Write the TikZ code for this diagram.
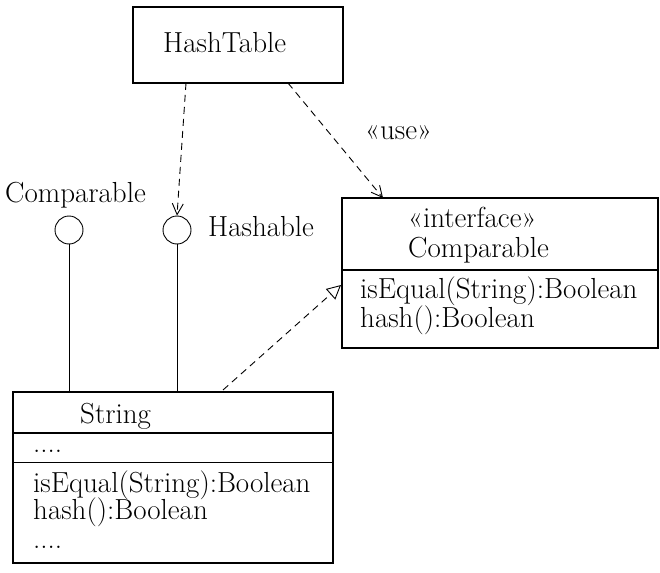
\documentclass[tikz,border=0pt]{standalone}
\usetikzlibrary{arrows.meta,calc}
\begin{document}
\begin{tikzpicture}[x=1pt,y=-1pt,
  font=\fontsize{29}{33}\selectfont,
  box/.style={draw, line width=2.2pt, inner sep=0, outer sep=0, anchor=north west},
  txt/.style={inner sep=0, anchor=base west},
  link/.style={line width=0.9pt},
  dep/.style={link, dash pattern=on 7pt off 5pt, -{Straight Barb[length=11pt,width=11pt,line width=0.9pt]}},
  real/.style={link, dash pattern=on 7pt off 5pt, -{Triangle[open,length=14pt,width=14pt,line width=0.9pt]}},
  lollipop/.style={circle, draw, line width=0.9pt, minimum size=28pt, inner sep=0}]
\path[use as bounding box] (0,0) rectangle (660,572);

% HashTable class
\node[box, minimum width=210pt, minimum height=76pt] (ht) at (133,7) {};
\node[txt] (htname) at (163,53) {HashTable};

% provided interfaces (lollipops)
\node[lollipop] (cmp) at (69,230) {};
\node[lollipop] (hsh) at (177,230) {};
\node[txt] (cmplbl) at (5,202) {Comparable};
\node[txt] (hshlbl) at (208,236) {Hashable};

% interface Comparable
\node[box, minimum width=316pt, minimum height=150pt] (if) at (342,198) {};
\draw[line width=1.3pt] ($(if.north west)+(0,72)$) -- ($(if.north east)+(0,72)$);
\node[txt] (ifst) at (408,227) {«interface»};
\node[txt] (ifname) at (408,257) {Comparable};
\node[txt] (ifop1) at (360,298) {isEqual(String):Boolean};
\node[txt] (ifop2) at (360,327) {hash():Boolean};

% class String
\node[box, minimum width=320pt, minimum height=171pt] (str) at (13,392) {};
\draw[line width=1.3pt] ($(str.north west)+(0,41)$) -- ($(str.north east)+(0,41)$);
\draw[line width=0.8pt] ($(str.north west)+(0,70)$) -- ($(str.north east)+(0,70)$);
\node[txt] (strname) at (80,423) {String};
\node[txt] (strattr) at (33,452) {....};
\node[txt] (strop1) at (33,492) {isEqual(String):Boolean};
\node[txt] (strop2) at (33,519) {hash():Boolean};
\node[txt] (strop3) at (33,548) {....};

% connectors
\draw[dep] ($(ht.south west)+(53,0)$) -- (hsh.north);
\draw[dep] ($(ht.south west)+(155,0)$) -- ($(if.north west)+(41,0)$);
\node[txt] (uselbl) at (365,140) {«use»};
\draw[link] (cmp.south) -- (cmp.south |- str.north);
\draw[link] (hsh.south) -- (hsh.south |- str.north);
\draw[real] ($(str.north west)+(210,-2)$) -- ($(if.north west)+(-1,87)$);
\end{tikzpicture}
\end{document}
